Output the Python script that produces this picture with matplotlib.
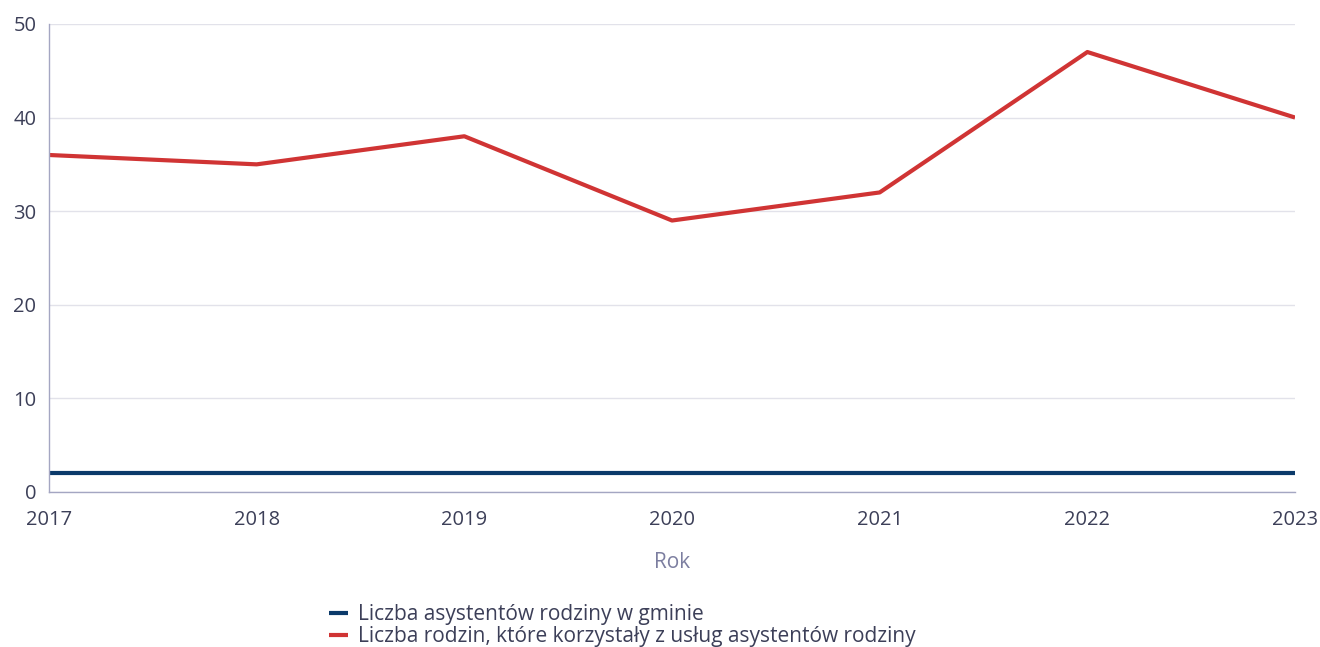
import matplotlib
matplotlib.use("Agg")
import matplotlib.pyplot as plt

years = [2017, 2018, 2019, 2020, 2021, 2022, 2023]
asystenci = [2, 2, 2, 2, 2, 2, 2]
rodziny = [36, 35, 38, 29, 32, 47, 40]

plt.rcParams['font.family'] = ['Open Sans', 'DejaVu Sans']

fig = plt.figure(figsize=(13.2, 6.47), dpi=100)
ax = fig.add_axes([0.0371, 0.2396, 0.944, 0.7234])

ax.plot(years, asystenci, color='#0b3a6a', linewidth=3,
        label='Liczba asystentów rodziny w gminie', solid_capstyle='butt')
ax.plot(years, rodziny, color='#d03434', linewidth=3,
        label='Liczba rodzin, które korzystały z usług asystentów rodziny',
        solid_capstyle='butt')

ax.set_xlim(2017, 2023)
ax.set_ylim(0, 50)
ax.set_yticks([0, 10, 20, 30, 40, 50])
ax.set_xticks(years)
ax.grid(axis='y', color='#e2e2ea', linewidth=1)
ax.set_axisbelow(True)
for s in ['top', 'right']:
    ax.spines[s].set_visible(False)
for s in ['left', 'bottom']:
    ax.spines[s].set_color('#a4a6c2')
    ax.spines[s].set_linewidth(1)
ax.tick_params(length=0, labelsize=14.5, colors='#3c3f58')
ax.tick_params(axis='y', pad=9)
ax.tick_params(axis='x', pad=13)
ax.set_xlabel('Rok', fontsize=15, color='#7c7ea0', labelpad=16)

fig.legend(loc='upper left', bbox_to_anchor=(0.243, 0.079), frameon=False,
           fontsize=15, labelcolor='#3c3f58', handlelength=0.9,
           handletextpad=0.5, labelspacing=0.05, borderaxespad=0)

fig.savefig('out.png', dpi=100)
